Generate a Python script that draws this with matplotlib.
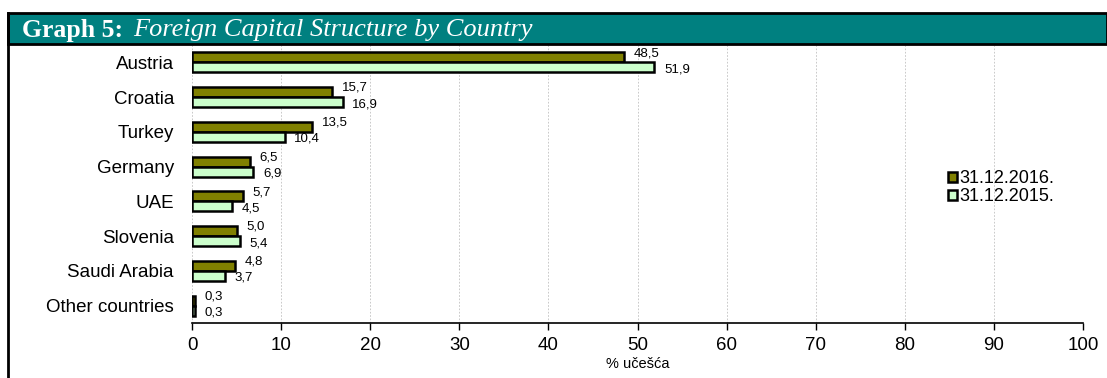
import matplotlib
matplotlib.use("Agg")
import matplotlib.pyplot as plt
from matplotlib.patches import Rectangle, Patch
from matplotlib.lines import Line2D
import numpy as np

countries = ["Austria", "Croatia", "Turkey", "Germany", "UAE", "Slovenia",
             "Saudi Arabia", "Other countries"]
share_2016 = [48.5, 15.7, 13.5, 6.5, 5.7, 5.0, 4.8, 0.3]
share_2015 = [51.9, 16.9, 10.4, 6.9, 4.5, 5.4, 3.7, 0.3]
series_labels = ["31.12.2016.", "31.12.2015."]
xticks = list(range(0, 101, 10))

OLIVE = "#808000"
MINT = "#CCFFCC"
TEAL = "#008080"

plt.rcParams["font.family"] = ["Liberation Sans", "DejaVu Sans"]

fig = plt.figure(figsize=(11.07, 3.78), dpi=100)
ax = fig.add_axes([192 / 1107, 1 - 323 / 378, 891 / 1107, 278 / 378])

y = np.arange(len(countries))
h = 0.29
ax.barh(y - h / 2, share_2016, height=h, color=OLIVE, edgecolor="black",
        linewidth=1.8, zorder=3, label=series_labels[0])
ax.barh(y + h / 2, share_2015, height=h, color=MINT, edgecolor="black",
        linewidth=1.8, zorder=3, label=series_labels[1])

# value labels, comma as decimal separator
for yi, v in zip(y, share_2016):
    ax.annotate(f"{v:.1f}".replace(".", ","), (v, yi - h / 2), xytext=(7, 3),
                textcoords="offset points", fontsize=9.5, va="center", ha="left")
for yi, v in zip(y, share_2015):
    ax.annotate(f"{v:.1f}".replace(".", ","), (v, yi + h / 2), xytext=(7, -1.5),
                textcoords="offset points", fontsize=9.5, va="center", ha="left")

ax.set_xlim(0, 100)
ax.set_ylim(len(countries) - 0.5, -0.5)
ax.set_yticks(y)
ax.set_yticklabels(countries, fontsize=13.5)
ax.set_xticks(xticks)
ax.tick_params(axis="x", labelsize=13.5, length=5, width=1, direction="out", pad=5)
ax.tick_params(axis="y", length=0, pad=13)
ax.set_xlabel("% učešća", fontsize=10.5, labelpad=2)

ax.grid(axis="x", color="#c0c0c0", linestyle=(0, (2, 2)), linewidth=0.6, zorder=0)
for s in ["top", "right", "left"]:
    ax.spines[s].set_visible(False)
ax.spines["bottom"].set_linewidth(1.2)

handles = [Patch(facecolor=OLIVE, edgecolor="black", linewidth=1.8),
           Patch(facecolor=MINT, edgecolor="black", linewidth=1.8)]
ax.legend(handles, series_labels, loc="upper left", bbox_to_anchor=(0.84, 0.575),
          frameon=False, fontsize=13, handlelength=0.5, handleheight=0.5,
          handletextpad=0.15, labelspacing=0.05, borderaxespad=0)

# header band and frame
fig.patches.append(Rectangle((8 / 1107, 1 - 44 / 378), 1 - 8 / 1107, 31 / 378,
                             transform=fig.transFigure, facecolor=TEAL,
                             edgecolor="black", linewidth=2, clip_on=False))
fig.lines.append(Line2D([8 / 1107, 8 / 1107], [0, 1 - 13 / 378],
                        transform=fig.transFigure, color="black", linewidth=2))
fig.text(22 / 1107, 1 - 30 / 378, "Graph 5:", family="Liberation Serif",
         weight="bold", fontsize=18.5, color="white", va="center")
fig.text(133 / 1107, 1 - 30 / 378, "Foreign Capital Structure by Country",
         family="Liberation Serif", style="italic", fontsize=19, color="white",
         va="center")

fig.savefig("out.png", dpi=100)
